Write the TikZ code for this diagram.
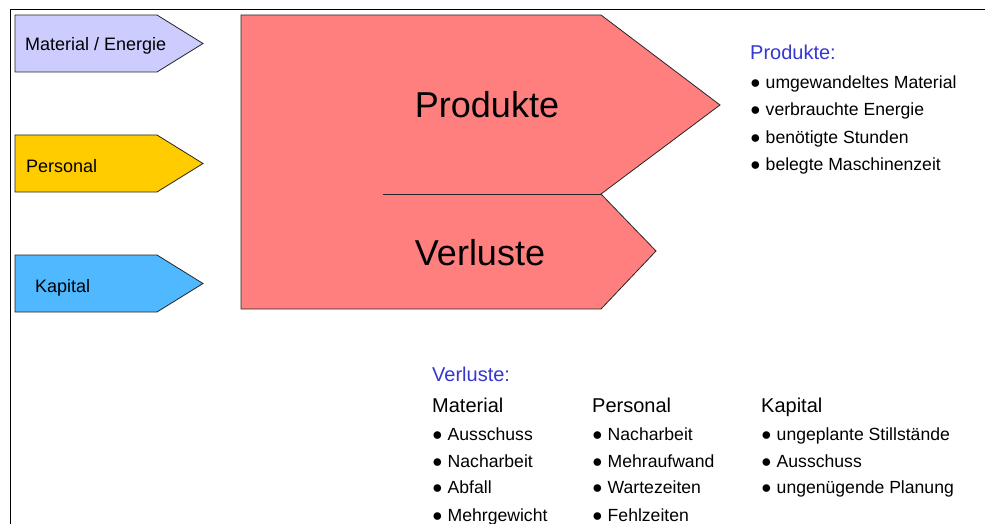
\documentclass[tikz,border=0pt]{standalone}
\usepackage{fontspec}
\setmainfont{Liberation Sans}
\definecolor{pinkfill}{HTML}{FF7F7F}
\definecolor{lavfill}{HTML}{CCCCFF}
\definecolor{yelfill}{HTML}{FFCC00}
\definecolor{bluefill}{HTML}{4FB8FF}
\definecolor{headblue}{HTML}{3636D0}
\begin{document}
\begin{tikzpicture}[x=1pt,y=-1pt,
  shapeline/.style={draw=black!85, line width=0.8pt},
  arrowlbl/.style={font=\fontsize{18}{21}\selectfont, anchor=base west, inner sep=0pt},
  bigtext/.style={font=\fontsize{36}{40}\selectfont, anchor=base, inner sep=0pt},
  headtext/.style={font=\fontsize{20}{24}\selectfont, anchor=base west, inner sep=0pt, text=headblue},
  coltext/.style={font=\fontsize{20}{24}\selectfont, anchor=base west, inner sep=0pt},
  itemtext/.style={font=\fontsize{17.6}{20}\selectfont, anchor=base west, inner sep=0pt}]
\useasboundingbox (0,0) rectangle (985,524);
% frame
\draw[line width=1pt] (10,524) -- (10,10) -- (985,10);
% input arrows
\filldraw[shapeline, fill=lavfill] (15,15) -- (157,15) -- (203,43.5) -- (157,72) -- (15,72) -- cycle;
\filldraw[shapeline, fill=yelfill] (15,135) -- (157,135) -- (203,163.5) -- (157,192) -- (15,192) -- cycle;
\filldraw[shapeline, fill=bluefill] (15,255) -- (157,255) -- (203,283.5) -- (157,312) -- (15,312) -- cycle;
\node[arrowlbl] (lmat) at (25,51) {Material / Energie};
\node[arrowlbl] (lpers) at (26,172) {Personal};
\node[arrowlbl] (lkap) at (35,292) {Kapital};
% big shape
\filldraw[shapeline, fill=pinkfill] (241,15) -- (601,15) -- (720,105) -- (601,194) -- (656,251) -- (601,309) -- (241,309) -- cycle;
\draw[shapeline] (383,194) -- (601,194);
\node[bigtext] (prod) at (487,118) {Produkte};
\node[bigtext] (verl) at (480,265) {Verluste};
% Produkte list
\node[headtext] (ph) at (750,60) {Produkte:};
\node[itemtext] (p1) at (750,89) {● umgewandeltes Material};
\node[itemtext] (p2) at (750,116) {● verbrauchte Energie};
\node[itemtext] (p3) at (750,143) {● benötigte Stunden};
\node[itemtext] (p4) at (750,170) {● belegte Maschinenzeit};
% Verluste list
\node[headtext] (vh) at (432,381) {Verluste:};
\node[coltext] (cm) at (432,412) {Material};
\node[coltext] (cp) at (592,412) {Personal};
\node[coltext] (ck) at (761,412) {Kapital};
\node[itemtext] (m1) at (432,440) {● Ausschuss};
\node[itemtext] (m2) at (432,467) {● Nacharbeit};
\node[itemtext] (m3) at (432,493) {● Abfall};
\node[itemtext] (m4) at (432,521) {● Mehrgewicht};
\node[itemtext] (q1) at (592,440) {● Nacharbeit};
\node[itemtext] (q2) at (592,467) {● Mehraufwand};
\node[itemtext] (q3) at (592,493) {● Wartezeiten};
\node[itemtext] (q4) at (592,521) {● Fehlzeiten};
\node[itemtext] (k1) at (761,440) {● ungeplante Stillstände};
\node[itemtext] (k2) at (761,467) {● Ausschuss};
\node[itemtext] (k3) at (761,493) {● ungenügende Planung};
\end{tikzpicture}
\end{document}
